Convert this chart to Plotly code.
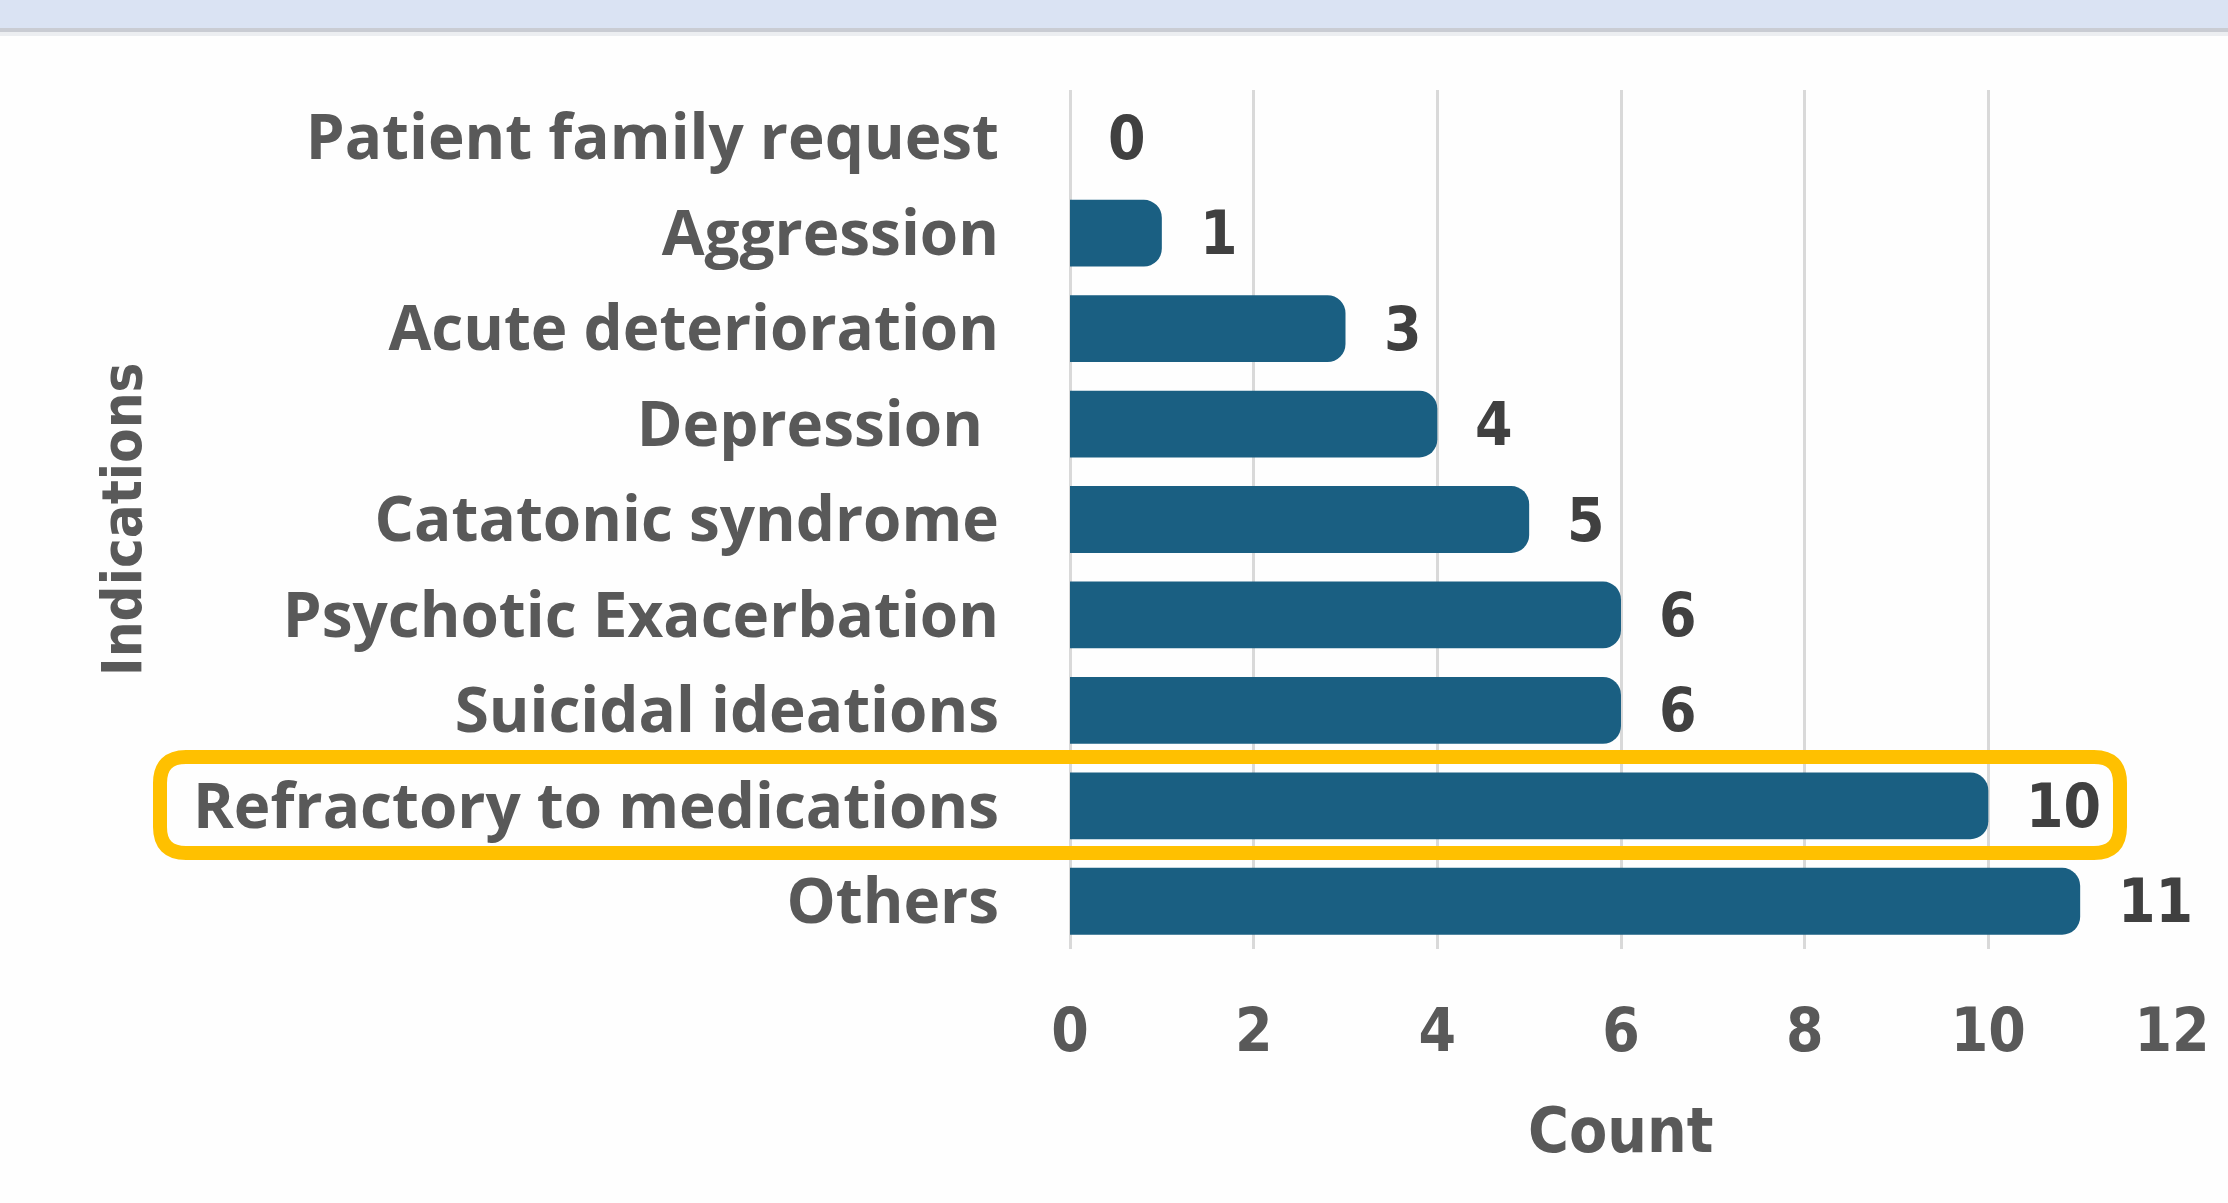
import plotly.graph_objects as go

categories = ["Patient family request", "Aggression", "Acute deterioration", "Depression\u00a0",
              "Catatonic syndrome", "Psychotic Exacerbation", "Suicidal ideations",
              "Refractory to medications", "Others"]
counts = [0, 1, 3, 4, 5, 6, 6, 10, 11]
x_ticks = [0, 2, 4, 6, 8, 10, 12]

W, H = 2228, 1203
L, R, T, B = 1070, 56, 90, 254
PW, PH = W - L - R, H - T - B

def px(X):
    return (X - L) / PW

def py(Y):
    return (H - B - Y) / PH

BAR = "#1a5f82"
TXT = "#595959"
LBL = "#404040"
NARROW = "Liberation Sans Narrow, DejaVu Sans Condensed, Roboto, sans-serif"
MAIN = "Open Sans, Roboto, sans-serif"

fig = go.Figure()
fig.add_trace(go.Bar(
    x=counts, y=categories, orientation="h", width=0.70,
    marker=dict(color=BAR, cornerradius=18, line=dict(width=0)),
    hoverinfo="x+y",
))

annotations = []
for c, v in zip(categories, counts):
    annotations.append(dict(x=v, y=c, xref="x", yref="y", text=f"<b>{v}</b>",
                            showarrow=False, xanchor="left", xshift=36,
                            font=dict(family=NARROW, size=60, color=LBL)))
annotations.append(dict(x=px(1620), y=py(1130), xref="paper", yref="paper",
                        text="<b>Count</b>", showarrow=False, xanchor="center", yanchor="middle",
                        font=dict(family=NARROW, size=62, color=TXT)))
annotations.append(dict(x=px(121), y=py(519), xref="paper", yref="paper",
                        text="<b>Indications</b>", showarrow=False, textangle=-90,
                        xanchor="center", yanchor="middle",
                        font=dict(family=NARROW, size=56, color=TXT)))

# highlight box (rounded rectangle) around "Refractory to medications"
x0, x1, y0, y1, r = 160, 2120, 757, 853, 26
rx, ry = r / PW, r / PH
X0, X1, Yt, Yb = px(x0), px(x1), py(y0), py(y1)
path = (f"M {X0+rx},{Yt} L {X1-rx},{Yt} Q {X1},{Yt} {X1},{Yt-ry} "
        f"L {X1},{Yb+ry} Q {X1},{Yb} {X1-rx},{Yb} "
        f"L {X0+rx},{Yb} Q {X0},{Yb} {X0},{Yb+ry} "
        f"L {X0},{Yt-ry} Q {X0},{Yt} {X0+rx},{Yt} Z")

shapes = [
    dict(type="rect", xref="paper", yref="paper", x0=px(0), x1=px(W), y0=py(28), y1=py(0),
         fillcolor="#dae3f3", line=dict(width=0), layer="below"),
    dict(type="rect", xref="paper", yref="paper", x0=px(0), x1=px(W), y0=py(32), y1=py(28),
         fillcolor="#c9ccd3", line=dict(width=0), layer="below"),
    dict(type="rect", xref="paper", yref="paper", x0=px(0), x1=px(W), y0=py(36), y1=py(32),
         fillcolor="#eceef1", line=dict(width=0), layer="below"),
    dict(type="path", xref="paper", yref="paper", path=path,
         line=dict(color="#ffc000", width=14), fillcolor="rgba(0,0,0,0)"),
]

fig.update_layout(
    width=W, height=H,
    margin=dict(l=L, r=R, t=T, b=B, pad=0),
    paper_bgcolor="#fefefe", plot_bgcolor="#fefefe",
    showlegend=False,
    bargap=0.3,
    annotations=annotations,
    shapes=shapes,
    xaxis=dict(range=[0, 12], tickvals=x_ticks, ticktext=[f"<b>{t}</b>" for t in x_ticks],
               showgrid=True, gridcolor="#d9d9d9", gridwidth=3,
               zeroline=True, zerolinecolor="#d9d9d9", zerolinewidth=3,
               showline=False, ticks="", ticklabelstandoff=41, automargin=False,
               tickfont=dict(family=NARROW, size=60, color=TXT), fixedrange=True),
    yaxis=dict(autorange="reversed", showgrid=False, zeroline=False, showline=False,
               ticks="", ticklabelstandoff=70, automargin=False,
               tickvals=categories, ticktext=[f"<b>{c}</b>" for c in categories],
               tickfont=dict(family=MAIN, size=62, color=TXT), fixedrange=True),
)

fig.write_html("out.html")
